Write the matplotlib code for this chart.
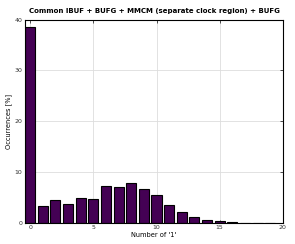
import matplotlib
matplotlib.use("Agg")
import matplotlib.pyplot as plt

# Anzahl der Einsen und relative Häufigkeit in Prozent
anzahl_einsen = list(range(20))
haeufigkeit = [38.6, 3.3, 4.5, 3.6, 4.9, 4.65, 7.25, 7.0, 7.85, 6.55,
               5.4, 3.45, 2.0, 1.0, 0.45, 0.25, 0.08, 0.0, 0.0, 0.0]

fig = plt.figure(figsize=(2.95, 2.44), dpi=100)
ax = fig.add_axes([0.085, 0.088, 0.874, 0.832])

ax.bar(anzahl_einsen, haeufigkeit, width=0.8, color="#440154",
       edgecolor="black", linewidth=0.8, zorder=3)

ax.set_xlim(-0.4, 20)
ax.set_ylim(0, 40)
ax.set_xticks([0, 5, 10, 15, 20])
ax.set_yticks([0, 10, 20, 30, 40])
ax.grid(True, color="#dddddd", linewidth=0.6, zorder=0)
ax.tick_params(labelsize=4.5, length=2, width=0.6, direction="in",
               top=True, right=True, colors="#333333", pad=2)
for s in ax.spines.values():
    s.set_linewidth(0.8)
    s.set_zorder(4)

ax.set_xlabel("Number of '1'", fontsize=4.8, labelpad=1.5)
ax.set_ylabel("Occurrences [%]", fontsize=4.8, labelpad=2)
ax.set_title("Common IBUF + BUFG + MMCM (separate clock region) + BUFG",
             fontsize=5, fontweight="bold", pad=5)

fig.savefig("out.png", dpi=100)
